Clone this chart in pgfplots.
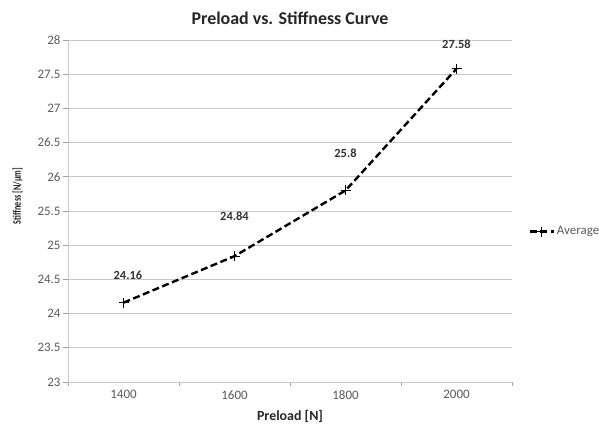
\documentclass[border=0pt]{standalone}
\usepackage{fontspec}
\setmainfont{Carlito}
\usepackage{graphicx}
\usepackage{pgfplots}
\pgfplotsset{compat=1.18}
\definecolor{gridc}{RGB}{200,200,200}
\definecolor{tickc}{RGB}{90,90,90}
\begin{document}
\begin{tikzpicture}[x=1bp,y=1bp]
\path[use as bounding box] (0,0) rectangle (599,425);
\begin{axis}[
  at={(68bp,43bp)}, anchor=south west,
  scale only axis, width=444bp, height=342bp,
  xmin=-0.5, xmax=3.5, ymin=23, ymax=28,
  ytick={23,23.5,24,24.5,25,25.5,26,26.5,27,27.5,28},
  yticklabels={23,23.5,24,24.5,25,25.5,26,26.5,27,27.5,28},
  xtick={0,1,2,3}, xticklabels={1400,1600,1800,2000},
  minor xtick={-0.5,0.5,1.5,2.5,3.5},
  major x tick style={draw=none},
  tick align=outside,
  major tick length=5bp, minor tick length=4bp,
  tick style={gridc!80!black, line width=0.8pt},
  axis lines*=left,
  axis line style={gridc, line width=0.8pt},
  ymajorgrids, grid style={gridc, line width=0.8pt},
  ticklabel style={font=\fontsize{13}{15}\selectfont, text=tickc},
  yticklabel style={xshift=1bp},
  /pgf/number format/assume math mode=true,
  xlabel={\textbf{Preload [N]}},
  xlabel style={font=\fontsize{14}{16}\selectfont, text=black!85, yshift=-4.5bp},
  ylabel={\scalebox{0.72}[1]{\textbf{Stiffness [N/μm]}}},
  ylabel style={font=\fontsize{11.5}{13}\selectfont, text=black!85, yshift=8bp, xshift=15bp},
  title={\textbf{Preload vs. Stiffness Curve}},
  title style={font=\fontsize{18}{20}\selectfont, text=black!85, yshift=6bp},
  clip=false,
  legend style={at={(1.03,0.44)}, anchor=west, draw=none, fill=none,
    font=\fontsize{13}{15}\selectfont, text=tickc},
  legend image code/.code={\draw[mark repeat=2,mark phase=2,#1] plot coordinates {(0bp,0bp) (12bp,0bp) (24bp,0bp)};},
]
\addplot[black, line width=2.4pt, dash pattern=on 7bp off 3.5bp,
  mark=+, mark size=5bp, mark options={solid, line width=0.7pt}]
  coordinates {(0,24.16) (1,24.84) (2,25.8) (3,27.58)};
\addlegendentry{Average}
\addplot[draw=none, mark=none, forget plot, nodes near coords, point meta=explicit symbolic,
  nodes near coords style={anchor=center, font=\bfseries\fontsize{12.5}{14}\selectfont, text=black!80}]
  coordinates {(0.04,24.56) [24.16] (1.0,25.43) [24.84] (2.0,26.35) [25.8] (3.0,27.94) [27.58]};
\end{axis}
\end{tikzpicture}
\end{document}
